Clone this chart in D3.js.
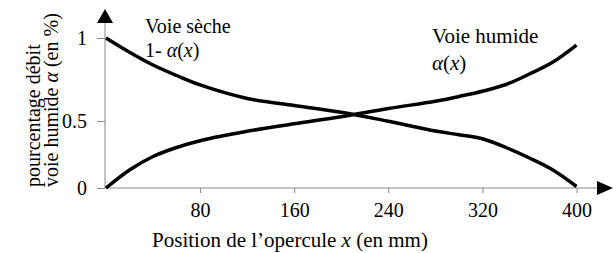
<!DOCTYPE html>
<html>
<head>
<meta charset="utf-8">
<script src="https://cdn.jsdelivr.net/npm/d3@7"></script>
<style>
  body { margin: 0; background: #fff; }
  svg text { font-family: 'Liberation Serif', 'Tinos', 'DejaVu Serif', serif; fill: #000; }
</style>
</head>
<body>
<script>
// Data
const xPos = [0, 20, 40, 60, 80, 120, 160, 200, 240, 280, 300, 320, 340, 360, 380, 400];
const wetFlow = [0, 0.12, 0.21, 0.27, 0.315, 0.378, 0.428, 0.475, 0.53, 0.578, 0.61, 0.645, 0.69, 0.76, 0.84, 0.953];
const dryFlow = [1, 0.905, 0.82, 0.75, 0.687, 0.597, 0.55, 0.505, 0.445, 0.38, 0.355, 0.328, 0.27, 0.20, 0.12, 0.01];
const xTicks = [80, 160, 240, 320, 400];
const yTickValues = [0, 0.447, 1];
const yTickLabels = ['0', '0.5', '1'];

const width = 616,
    height = 253,
    axisColor = '#888',
    fontFamily = "'Liberation Serif', 'Tinos', 'DejaVu Serif', serif";

const svg = d3.select('body').append('svg')
    .attr('width', width)
    .attr('height', height)
    .attr('font-family', fontFamily);

const x = d3.scaleLinear().domain([0, 400]).range([106, 576.5]);
const y = d3.scaleLinear().domain([0, 1]).range([188, 38]);

// x axis
const xAxis = svg.append('g')
    .attr('transform', 'translate(0,' + y(0) + ')')
    .call(d3.axisBottom(x).tickValues(xTicks).tickSize(5).tickPadding(10).tickFormat(d3.format('d')))
    .attr('font-family', fontFamily)
    .attr('font-size', 20);
xAxis.select('.domain').remove();
xAxis.selectAll('line').attr('stroke', axisColor);

svg.append('line')
    .attr('x1', x(0) - 1).attr('x2', 598)
    .attr('y1', y(0)).attr('y2', y(0))
    .attr('stroke', axisColor);
svg.append('path')
    .attr('d', 'M597,181 L613,' + y(0) + ' L597,195 Z')
    .attr('fill', '#000');

// y axis
const yAxis = svg.append('g')
    .attr('transform', 'translate(' + (x(0) - 1) + ',0)')
    .call(d3.axisLeft(y).tickValues(yTickValues).tickSize(8).tickPadding(10)
        .tickFormat((d, i) => yTickLabels[i]))
    .attr('font-family', fontFamily)
    .attr('font-size', 20);
yAxis.select('.domain').remove();
yAxis.selectAll('line').attr('stroke', axisColor);

svg.append('line')
    .attr('x1', x(0) - 1).attr('x2', x(0) - 1)
    .attr('y1', y(0)).attr('y2', 22)
    .attr('stroke', axisColor);
svg.append('path')
    .attr('d', 'M97,23 L' + (x(0) - 1) + ',9 L113,23 Z')
    .attr('fill', '#000');

// curves
const line = d3.line()
    .x((d, i) => x(xPos[i]))
    .y(d => y(d))
    .curve(d3.curveCatmullRom);

[wetFlow, dryFlow].forEach(series => {
    svg.append('path')
        .attr('d', line(series))
        .attr('fill', 'none')
        .attr('stroke', '#000')
        .attr('stroke-width', 3.5);
});

// axis titles
svg.append('text')
    .attr('x', 290).attr('y', 247)
    .attr('text-anchor', 'middle')
    .attr('font-size', 21)
    .html('Position de l\u2019opercule <tspan font-style="italic">x</tspan> (en mm)');

const yTitle = svg.append('g')
    .attr('transform', 'translate(40,187) rotate(-90)');
yTitle.append('text')
    .attr('font-size', 20)
    .text('pourcentage débit');
yTitle.append('text')
    .attr('y', 18)
    .attr('font-size', 20)
    .html('voie humide <tspan font-style="italic">α</tspan> (en %)');

// annotations
svg.append('text')
    .attr('x', 145).attr('y', 33)
    .attr('font-size', 20)
    .text('Voie sèche');
svg.append('text')
    .attr('x', 145).attr('y', 57)
    .attr('font-size', 20)
    .html('1- <tspan font-style="italic">α</tspan>(<tspan font-style="italic">x</tspan>)');
svg.append('text')
    .attr('x', 432).attr('y', 43)
    .attr('font-size', 21)
    .text('Voie humide');
svg.append('text')
    .attr('x', 432).attr('y', 70)
    .attr('font-size', 21)
    .html('<tspan font-style="italic">α</tspan>(<tspan font-style="italic">x</tspan>)');
</script>
</body>
</html>
